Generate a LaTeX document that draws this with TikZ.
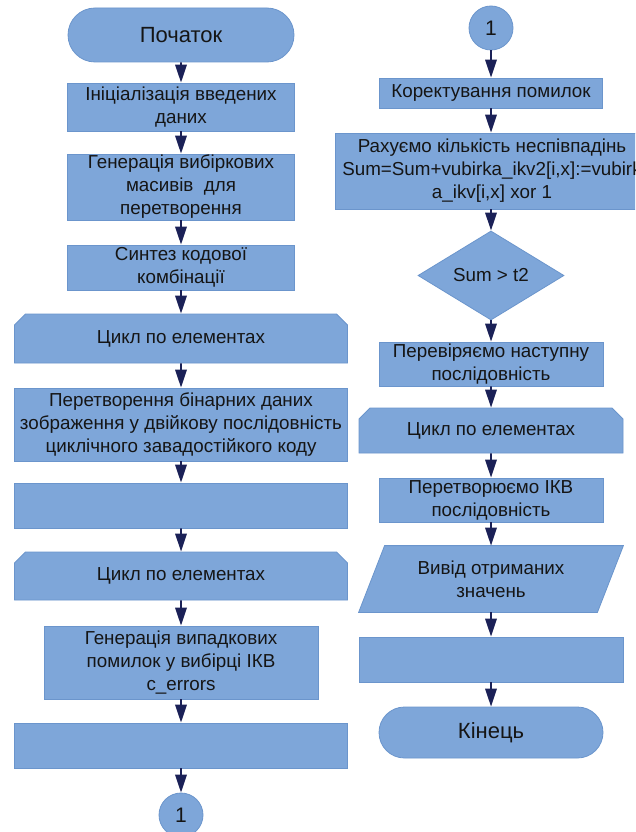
\documentclass[tikz,border=0pt]{standalone}
\usepackage{fontspec}
\setmainfont{Liberation Sans}
\usetikzlibrary{shapes.misc,shapes.geometric,arrows.meta,backgrounds}
\definecolor{boxfill}{HTML}{7EA6D9}
\definecolor{boxline}{HTML}{6B95CC}
\definecolor{arrowc}{HTML}{1B2157}
\definecolor{txt}{HTML}{151515}
\pgfdeclarelayer{paper}
\pgfsetlayers{paper,background,main}
\tikzset{
  base/.style={draw=boxline, fill=boxfill, line width=0.8pt, inner sep=0pt,
    align=center, text=txt, font=\fontsize{18.8}{23}\selectfont},
  procbox/.style={base, rectangle},
  termbox/.style={base, rounded rectangle, font=\fontsize{22}{26}\selectfont},
  loopstart/.style={base, chamfered rectangle, chamfered rectangle corners={north west,north east},
    chamfered rectangle xsep=5.5pt, chamfered rectangle ysep=5.5pt},
  loopend/.style={base, chamfered rectangle, chamfered rectangle corners={south west,south east},
    chamfered rectangle xsep=5.5pt, chamfered rectangle ysep=5.5pt},
  decbox/.style={base, diamond},
  textonly/.style={base, draw=none, fill=none, rectangle},
  ioshape/.style={draw=boxline, fill=boxfill, line width=0.8pt},
  conn/.style={base, circle, minimum size=44pt, font=\fontsize{21}{25}\selectfont},
  arr/.style={draw=arrowc, line width=1.8pt, -{Triangle[length=18pt,width=11.5pt]}}
}
\begin{document}
\begin{tikzpicture}[x=1pt,y=-1pt]
\useasboundingbox (0,0) rectangle (635,832);
\clip (0,0) rectangle (635,832);
\begin{pgfonlayer}{paper}
\fill[white] (0,0) rectangle (635,832);
\end{pgfonlayer}
% left column
\node[termbox, minimum width=226pt, minimum height=54pt] (start) at (181,35) {Початок};
\node[procbox, minimum width=227pt, minimum height=48pt] (init) at (181,107) {Ініціалізація введених\\даних};
\node[procbox, minimum width=227pt, minimum height=66pt] (gen) at (181,187) {Генерація вибіркових\\масивів\ \ для\\перетворення};
\node[procbox, minimum width=227pt, minimum height=45pt] (syn) at (181,267.5) {Синтез кодової\\комбінації};
\node[loopstart, minimum width=333pt, minimum height=49pt] (loopa) at (181,338.5) {Цикл по елементах};
\node[procbox, minimum width=333pt, minimum height=73pt] (conv) at (181,424.5) {Перетворення бінарних даних\\зображення у двійкову послідовність\\циклічного завадостійкого коду};
\node[loopend, minimum width=333pt, minimum height=45pt] (enda) at (181,505.5) {};
\node[loopstart, minimum width=333pt, minimum height=48pt] (loopb) at (181,576) {Цикл по елементах};
\node[procbox, minimum width=274pt, minimum height=73pt] (errs) at (181,662.5) {Генерація випадкових\\помилок у вибірці ІКВ\\c\_errors};
\node[loopend, minimum width=333pt, minimum height=45pt] (endb) at (181,745.5) {};
\node[conn] (ca) at (181,815) {1};
% right column
\node[conn] (cb) at (491,28) {1};
\node[procbox, minimum width=223pt, minimum height=30pt] (corr) at (491,93) {Коректування помилок};
\node[procbox, minimum width=314pt, minimum height=76pt] (count) at (492,171) {Рахуємо кількість неспівпадінь\\Sum=Sum+vubirka\_ikv2[i,x]:=vubirk\\a\_ikv[i,x] xor 1};
\node[decbox, minimum width=146pt, minimum height=87pt] (dec) at (491,275.5) {Sum > t2};
\node[procbox, minimum width=224pt, minimum height=44pt] (chk) at (491,364) {Перевіряємо наступну\\послідовність};
\node[loopstart, minimum width=264pt, minimum height=45pt] (loopc) at (491,430.5) {Цикл по елементах};
\node[procbox, minimum width=224pt, minimum height=44pt] (conv2) at (491,500) {Перетворюємо ІКВ\\послідовність};
\node[textonly, minimum width=264pt, minimum height=66pt] (out) at (491,579) {Вивід отриманих\\значень};
\begin{pgfonlayer}{background}
\path[ioshape] (out.south west) -- ([xshift=26pt]out.north west) -- (out.north east) -- ([xshift=-26pt]out.south east) -- cycle;
\end{pgfonlayer}
\node[loopend, minimum width=264pt, minimum height=45pt] (endc) at (491,659.5) {};
\node[termbox, minimum width=224pt, minimum height=51pt] (fin) at (491,732.5) {Кінець};
% connectors
\draw[arr] (start) -- (init);
\draw[arr] (init) -- (gen);
\draw[arr] (gen) -- (syn);
\draw[arr] (syn) -- (loopa);
\draw[arr] (loopa) -- (conv);
\draw[arr] (conv) -- (enda);
\draw[arr] (enda) -- (loopb);
\draw[arr] (loopb) -- (errs);
\draw[arr] (errs) -- (endb);
\draw[arr] (endb) -- (ca);
\draw[arr] (cb) -- (corr);
\draw[arr] (corr) -- (count.north -| corr.south);
\draw[arr] (count.south -| dec.north) -- (dec);
\draw[arr] (dec) -- (chk);
\draw[arr] (chk) -- (loopc);
\draw[arr] (loopc) -- (conv2);
\draw[arr] (conv2) -- (out);
\draw[arr] (out) -- (endc);
\draw[arr] (endc) -- (fin);
\end{tikzpicture}
\end{document}
